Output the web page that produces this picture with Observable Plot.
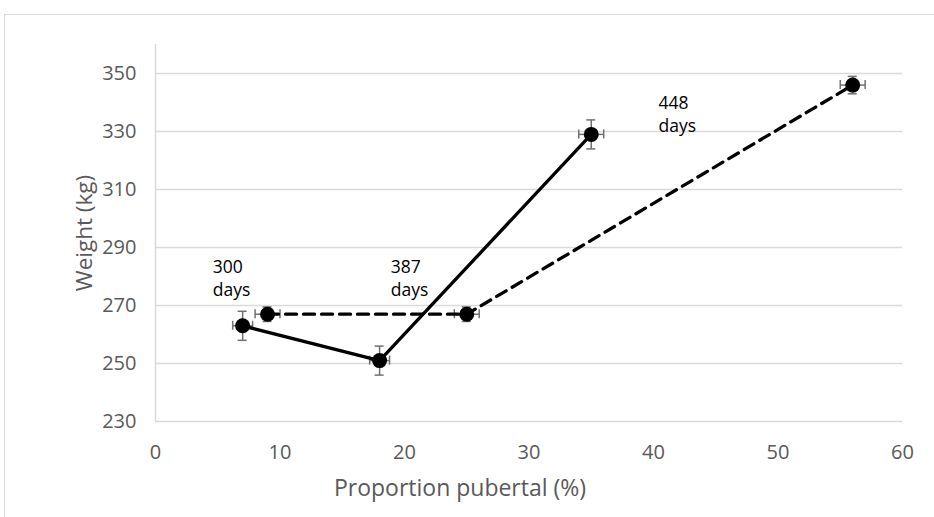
<!DOCTYPE html>
<html>
<head>
<meta charset="utf-8">
<script src="https://cdn.jsdelivr.net/npm/d3@7"></script>
<script src="https://cdn.jsdelivr.net/npm/@observablehq/plot@0.6"></script>
<style>
  html, body { margin: 0; padding: 0; background: #fff; }
  #wrap { position: relative; width: 934px; height: 517px; overflow: hidden; }
  #border { position: absolute; left: 4px; top: 14px; width: 960px; height: 560px;
            border-left: 1.5px solid #d9d9d9; border-top: 1.5px solid #d9d9d9; }
  #chart { position: absolute; left: 0; top: 0; }
</style>
</head>
<body>
<div id="wrap"><div id="border"></div><div id="chart"></div></div>
<script>
// Solid series (points, with error bars)
const solidX = [7, 18, 35];
const solidY = [263, 251, 329];
const solidErrY = [5, 5, 5];
const solidErrX = [0.8, 0.8, 1];

// Dashed series
const dashedX = [9, 25, 56];
const dashedY = [267, 267, 346];
const dashedErrY = [2.5, 2.5, 3];
const dashedErrX = [1, 1, 1];

// Annotations
const noteText = ["300\ndays", "387\ndays", "448\ndays"];
const noteX = [4.6, 18.9, 40.4];
const noteY = [286.7, 286.7, 343.4];

// Axis ticks
const xTicks = [0, 10, 20, 30, 40, 50, 60];
const yTicks = [230, 250, 270, 290, 310, 330, 350];

const solid = solidX.map((x, i) => ({x, y: solidY[i], ey: solidErrY[i], ex: solidErrX[i]}));
const dashed = dashedX.map((x, i) => ({x, y: dashedY[i], ey: dashedErrY[i], ex: dashedErrX[i]}));
const both = solid.concat(dashed);
const notes = noteText.map((t, i) => ({t, x: noteX[i], y: noteY[i]}));

const font = "'Open Sans', sans-serif";
const textColor = "#595959";
const errColor = "#707070";

const chart = Plot.plot({
  width: 934,
  height: 517,
  marginLeft: 155,
  marginRight: 32,
  marginTop: 44,
  marginBottom: 96,
  style: {fontFamily: font, fontSize: "20px", color: textColor, background: "transparent", overflow: "visible"},
  x: {domain: [0, 60], ticks: xTicks, tickSize: 0, tickPadding: 23, label: null},
  y: {domain: [230, 360], ticks: yTicks, tickSize: 0, tickPadding: 19, label: null},
  marks: [
    Plot.ruleY(yTicks, {stroke: "#d9d9d9", strokeWidth: 1.5}),
    Plot.ruleX([0], {y1: 230, y2: 360, stroke: "#d9d9d9", strokeWidth: 1.5}),
    // error bars: vertical
    Plot.link(both, {x1: "x", x2: "x", y1: d => d.y - d.ey, y2: d => d.y + d.ey, stroke: errColor, strokeWidth: 1.5}),
    Plot.ruleY(both, {y: d => d.y - d.ey, x1: "x", x2: "x", insetLeft: -4.5, insetRight: -4.5, stroke: errColor, strokeWidth: 1.5}),
    Plot.ruleY(both, {y: d => d.y + d.ey, x1: "x", x2: "x", insetLeft: -4.5, insetRight: -4.5, stroke: errColor, strokeWidth: 1.5}),
    // error bars: horizontal
    Plot.link(both, {y1: "y", y2: "y", x1: d => d.x - d.ex, x2: d => d.x + d.ex, stroke: errColor, strokeWidth: 1.5}),
    Plot.ruleX(both, {x: d => d.x - d.ex, y1: "y", y2: "y", insetTop: -4.5, insetBottom: -4.5, stroke: errColor, strokeWidth: 1.5}),
    Plot.ruleX(both, {x: d => d.x + d.ex, y1: "y", y2: "y", insetTop: -4.5, insetBottom: -4.5, stroke: errColor, strokeWidth: 1.5}),
    // lines
    Plot.line(solid, {x: "x", y: "y", stroke: "#000", strokeWidth: 3.3}),
    Plot.line(dashed, {x: "x", y: "y", stroke: "#000", strokeWidth: 3.3, strokeDasharray: "11,7"}),
    Plot.dot(both, {x: "x", y: "y", r: 7.5, fill: "#000", stroke: "none"}),
    // annotations
    Plot.text(notes, {x: "x", y: "y", text: "t", textAnchor: "start", lineAnchor: "top", lineHeight: 1.3, fontSize: 17.5, fill: "#000"}),
    // axis titles
    Plot.text(["Proportion pubertal (%)"], {frameAnchor: "bottom", textAnchor: "middle", lineAnchor: "middle", dx: -69, dy: 67, fontSize: 23, fill: textColor}),
    Plot.text(["Weight (kg)"], {frameAnchor: "left", textAnchor: "middle", lineAnchor: "middle", rotate: -90, dx: -71, fontSize: 22.5, fill: textColor})
  ]
});
document.getElementById("chart").appendChild(chart);
</script>
</body>
</html>
